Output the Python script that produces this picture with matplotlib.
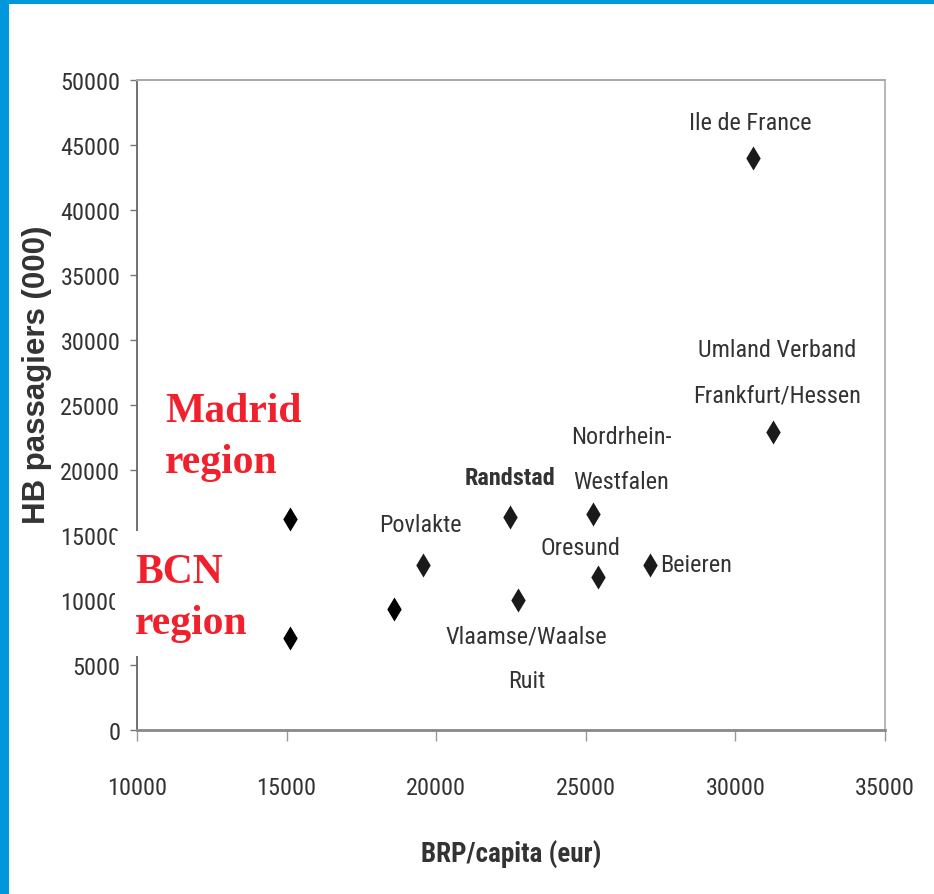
import matplotlib
matplotlib.use('Agg')
import matplotlib.pyplot as plt
from matplotlib import font_manager
from matplotlib.patches import Rectangle

# regions (BRP/capita in eur, HB passengers in 000)
regions = ['Ile de France', 'Umland Verband\nFrankfurt/Hessen', 'Nordrhein-\nWestfalen',
           'Randstad', 'Povlakte', 'Oresund', 'Beieren', 'Vlaamse/Waalse\nRuit']
brp = [30600, 31250, 25250, 22450, 19550, 25400, 27150, 22750]
passengers = [44000, 22900, 16600, 16400, 12700, 11800, 12700, 10000]

# the three points added by hand (Madrid, BCN and an unlabelled one)
extra_brp = [15100, 15100, 18600]
extra_passengers = [16200, 7100, 9300]

red_labels = [('Madrid', 'region'), ('BCN', 'region')]

xticks = list(range(10000, 35001, 5000))
yticks = list(range(0, 50001, 5000))

# label offsets in pixels relative to each point (dx, dy, ha)
offsets = {
	'Ile de France': (-3, 35, 'center'),
	'Umland Verband\nFrankfurt/Hessen': (4, 60, 'center'),
	'Nordrhein-\nWestfalen': (28, 55, 'center'),
	'Randstad': (0, 39, 'center'),
	'Povlakte': (-2, 40, 'center'),
	'Oresund': (-17, 29, 'center'),
	'Beieren': (10, 0, 'left'),
	'Vlaamse/Waalse\nRuit': (8, -58, 'center'),
}

W, H = 934, 895

# narrow sans families that are installed, with the weights each one has
weights = {}
for f in font_manager.fontManager.ttflist:
	if 'Narrow' in f.name or 'Condensed' in f.name:
		w = f.weight if isinstance(f.weight, int) else 400
		weights.setdefault(f.name, set()).add(w)

def pickNarrow(bold):
	good = [n for n, ws in weights.items()
		if (max(ws) >= 600 if bold else any(350 <= w <= 500 for w in ws))]
	for pref in ['Liberation Sans Narrow', 'Arial Narrow', 'Roboto Condensed', 'Open Sans Condensed']:
		if pref in good:
			return pref
	return sorted(good)[0] if good else None

reg = pickNarrow(False)
bld = pickNarrow(True)
NARROW = [reg, 'Liberation Sans'] if reg else ['Liberation Sans']
NARROW_BOLD = [bld, 'Liberation Sans'] if bld else ['Liberation Sans']
scale = 1.0 if reg else 0.85
bscale = 1.0 if bld else 0.85
SANS = ['Liberation Sans', 'DejaVu Sans']
SERIF = ['Liberation Serif', 'DejaVu Serif']

def px(x, y):
	return x / W, 1 - y / H

fig = plt.figure(figsize=(9.34, 8.95), dpi=100)
fig.patch.set_facecolor('white')

# blue slide border
fig.patches.append(Rectangle((0, 0), 9 / W, 1, transform=fig.transFigure,
	facecolor='#0097DD', edgecolor='none', zorder=10))
fig.patches.append(Rectangle((0, 1 - 5 / H), 1, 5 / H, transform=fig.transFigure,
	facecolor='#0097DD', edgecolor='none', zorder=10))

l, b = px(137, 731)
r, t = px(885, 81)
ax = fig.add_axes([l, b, r - l, t - b])

ax.scatter(brp, passengers, marker='d', s=150, color='#1a1a1a', zorder=4, linewidths=0)
ax.scatter(extra_brp, extra_passengers, marker='d', s=150, color='black', zorder=4, linewidths=0)

for name, x, y in zip(regions, brp, passengers):
	dx, dy, ha = offsets[name]
	if name == 'Randstad':
		fam, size, weight = NARROW_BOLD, 17.5 * bscale, 'bold'
	else:
		fam, size, weight = NARROW, 17.5 * scale, 'normal'
	ax.annotate(name, (x, y), xytext=(dx, dy), textcoords='offset pixels',
		ha=ha, va='center', fontsize=size, family=fam, fontweight=weight,
		color='#333333', linespacing=2.2, zorder=5)

ax.set_xlim(10000, 35000)
ax.set_ylim(0, 50000)
ax.set_xticks(xticks)
ax.set_yticks(yticks)
ax.tick_params(axis='x', length=8, width=1, color='#999999', pad=25, labelsize=17.5 * scale, labelcolor='#333333')
ax.tick_params(axis='y', length=5, width=1, color='#777777', pad=7, labelsize=17.5 * scale, labelcolor='#333333')
for lab in ax.get_xticklabels() + ax.get_yticklabels():
	lab.set_family(NARROW)

ax.spines['left'].set_color('#666666')
ax.spines['left'].set_linewidth(1.3)
ax.spines['bottom'].set_color('#888888')
ax.spines['bottom'].set_linewidth(2)
ax.spines['top'].set_color('#aaaaaa')
ax.spines['top'].set_linewidth(1.5)
ax.spines['right'].set_color('#aaaaaa')
ax.spines['right'].set_linewidth(1.2)

ax.set_xlabel('BRP/capita (eur)', fontsize=19.5 * bscale, family=NARROW_BOLD, fontweight='bold',
	color='#333333', va='center')
ax.xaxis.set_label_coords(0.5, (731 - 855) / 650)
ax.set_ylabel('HB passagiers (000)', fontsize=22.5, family=SANS,
	fontweight='bold', color='#333333', va='center')
ax.yaxis.set_label_coords((37 - 137) / 748, (731 - 375) / 650)

# white box pasted over the axis for the BCN label
x0, y0 = px(115, 657)
x1, y1 = px(310, 532)
ax.add_patch(Rectangle((x0, y0), x1 - x0, y1 - y0, transform=fig.transFigure,
	facecolor='white', edgecolor='none', clip_on=False, zorder=3))

red = '#F0202C'
for (first, second), (x, y) in zip(red_labels, [(165, 422), (135, 583)]):
	fig.text(*px(x, y), first, fontsize=30, family=SERIF, fontweight='bold', color=red, va='baseline')
	fig.text(*px(x, y + 51), second, fontsize=30, family=SERIF, fontweight='bold', color=red, va='baseline')

fig.savefig('out.png', dpi=100)
